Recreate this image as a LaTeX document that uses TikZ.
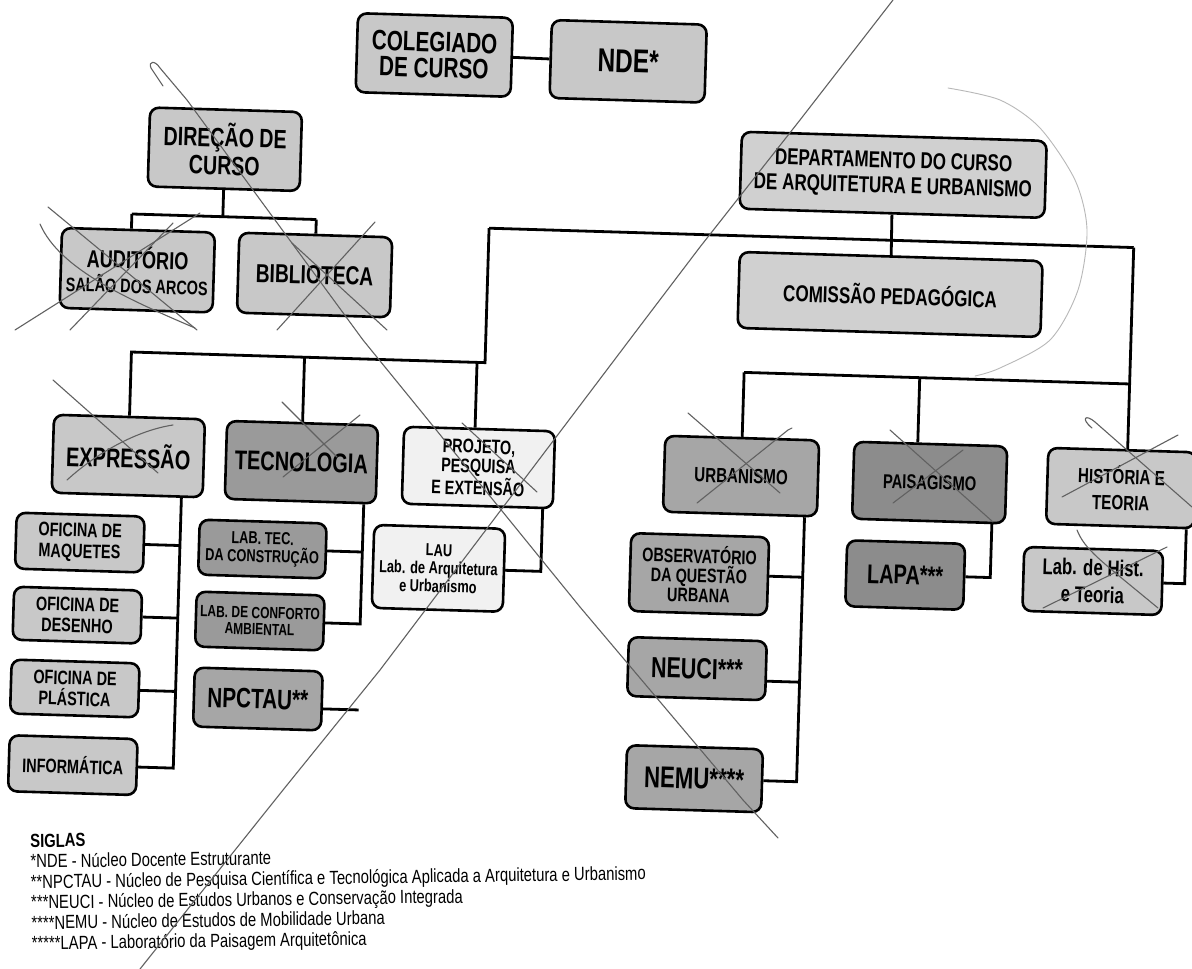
\documentclass[tikz,border=0pt]{standalone}
\usepackage{fontspec}
\setmainfont{Liberation Sans}[FakeStretch=0.74]
\newfontfamily\legendfont{Liberation Sans}[FakeStretch=0.78]
\definecolor{lg}{HTML}{C8C8C8}
\definecolor{lgb}{HTML}{D0D0D0}
\definecolor{mg}{HTML}{A6A6A6}
\definecolor{tg}{HTML}{9A9A9A}
\definecolor{pg}{HTML}{8C8C8C}
\definecolor{wg}{HTML}{F1F1F1}
\tikzset{
  box/.style={draw=black, line width=2.6pt, rounded corners=9pt, align=center, inner sep=1pt, text=black},
  conn/.style={draw=black, line width=2.8pt},
  fs/.style 2 args={font=\bfseries\fontsize{#1}{#2}\selectfont},
  pen/.style={draw=black!62, line width=1.1pt, line cap=round, line join=round},
  penlight/.style={draw=black!28, line width=0.9pt, line cap=round},
  legendblock/.style={anchor=north west, inner sep=0pt, rotate=0.8, align=left, font=\legendfont\fontsize{19}{20.5}\selectfont},
}
\begin{document}
\begin{tikzpicture}[x=1pt, y=-1pt]
\useasboundingbox (0,0) rectangle (1192,969);
\fill[white] (0,0) rectangle (1192,969);

\begin{scope}[rotate around={-1.72:(596,400)}, transform shape]
% top
\node[box, fill=lg, minimum width=155pt, minimum height=79pt, fs={28}{26}] (col) at (424,60) {COLEGIADO\\DE CURSO};
\node[box, fill=lg, minimum width=155pt, minimum height=78pt, fs={33}{33}] (nde) at (618,60.5) {NDE*};
\node[box, fill=lg, minimum width=152pt, minimum height=79pt, fs={26.5}{28}] (dir) at (217.5,160.5) {DIREÇÃO DE\\CURSO};
\node[box, fill=lg, minimum width=153pt, minimum height=80pt, font=\bfseries] (aud) at (133.6,284) {{\fontsize{24.5}{24.5}\selectfont AUDITÓRIO}\\[6pt]{\fontsize{19.5}{19.5}\selectfont SALÃO DOS ARCOS}};
\node[box, fill=lg, minimum width=153pt, minimum height=80pt, fs={26}{26}] (bib) at (311,283.5) {BIBLIOTECA};
\node[box, fill=lgb, minimum width=305pt, minimum height=77pt, fs={23}{25}] (dep) at (886.3,166) {DEPARTAMENTO DO CURSO\\DE ARQUITETURA E URBANISMO};
\node[box, fill=lgb, minimum width=303pt, minimum height=76pt, fs={23}{23}] (com) at (886.8,285.7) {COMISSÃO PEDAGÓGICA};
% second level
\node[box, fill=lg, minimum width=151pt, minimum height=78pt, fs={27}{27}] (exp) at (130.2,470) {EXPRESSÃO};
\node[box, fill=tg, minimum width=151pt, minimum height=78pt, fs={27}{27}] (tec) at (303.4,471) {TECNOLOGIA};
\node[box, fill=wg, minimum width=151pt, minimum height=77pt, fs={19.5}{19.5}] (pro) at (480.5,471) {PROJETO,\\PESQUISA\\E EXTENSÃO};
\node[box, fill=mg, minimum width=154pt, minimum height=76pt, fs={20.5}{20.5}] (urb) at (743.3,471.7) {URBANISMO};
\node[box, fill=pg, minimum width=153pt, minimum height=77pt, fs={20}{20}] (pai) at (932,472.5) {PAISAGISMO};
\node[box, fill=lg, minimum width=148pt, minimum height=76pt, fs={20.5}{26}] (his) at (1123.6,472.3) {HISTÓRIA E\\TEORIA};
% expressao column
\node[box, fill=lg, minimum width=128pt, minimum height=56pt, fs={19.5}{21}] (ofm) at (84.3,558) {OFICINA DE\\MAQUETES};
\node[box, fill=lg, minimum width=128pt, minimum height=53pt, fs={19.5}{21}] (ofd) at (84,630.6) {OFICINA DE\\DESENHO};
\node[box, fill=lg, minimum width=128pt, minimum height=54pt, fs={19.5}{21}] (ofp) at (83.7,704) {OFICINA DE\\PLÁSTICA};
\node[box, fill=lg, minimum width=128pt, minimum height=56pt, fs={19.5}{19.5}] (inf) at (84,780.7) {INFORMÁTICA};
% tecnologia column
\node[box, fill=tg, minimum width=127pt, minimum height=55pt, fs={17.3}{18}] (ltc) at (267,559) {LAB. TEC.\\DA CONSTRUÇÃO};
\node[box, fill=tg, minimum width=128pt, minimum height=55pt, fs={16.2}{16.5}] (lca) at (266.6,631) {LAB. DE CONFORTO\\AMBIENTAL};
\node[box, fill=mg, minimum width=128pt, minimum height=59pt, fs={28}{28}] (npc) at (267,709) {NPCTAU**};
% projeto
\node[box, fill=wg, minimum width=131pt, minimum height=83pt, fs={17.3}{18}] (lau) at (443.6,573) {LAU\\Lab. de Arquitetura\\e Urbanismo};
% urbanismo column
\node[box, fill=mg, minimum width=138pt, minimum height=78pt, fs={19.5}{19.5}] (obs) at (704.2,571) {OBSERVATÓRIO\\DA QUESTÃO\\URBANA};
\node[box, fill=mg, minimum width=138pt, minimum height=59pt, fs={29}{29}] (neu) at (705,665.5) {NEUCI***};
\node[box, fill=mg, minimum width=136pt, minimum height=63pt, fs={30}{30}] (nem) at (705.4,775.6) {NEMU****};
% paisagismo, historia
\node[box, fill=pg, minimum width=118pt, minimum height=66pt, fs={27}{27}] (lapa) at (910.3,565.7) {LAPA***};
\node[box, fill=lg, minimum width=139pt, minimum height=64pt, fs={22.7}{27}] (lh) at (1098,566) {Lab. de Hist.\\e Teoria};

% connectors
\draw[conn] (col.east) -- (nde.west);
\coordinate (audtop) at (126.5,228);
\coordinate (bibtop) at (311,228);
\draw[conn] (dir.south) -- (dir.south |- audtop);
\draw[conn] (audtop) -- (bibtop);
\draw[conn] (audtop) -- (audtop |- aud.north);
\draw[conn] (bibtop) -- (bibtop |- bib.north);

\coordinate (ml) at (484,231.5);
\coordinate (mr) at (1129,231.5);
\draw[conn] (ml) -- (mr);
\draw[conn] (dep.south) -- (com.north);
\coordinate (lbr) at (484,366);
\coordinate (lbl) at (130.2,366);
\draw[conn] (ml) -- (lbr) -- (lbl) -- (exp.north);
\draw[conn] (tec.north) -- (tec.north |- lbr);
\coordinate (prodrop) at (476,366);
\draw[conn] (prodrop) -- (prodrop |- pro.north);

\coordinate (rbl) at (743.3,368);
\draw[conn] (mr) -- (mr |- his.north);
\draw[conn] (rbl) -- (rbl -| mr);
\draw[conn] (rbl) -- (urb.north);
\coordinate (paidrop) at (919,368);
\draw[conn] (paidrop) -- (paidrop |- pai.north);

\coordinate (expt) at (184.5,0);
\draw[conn] (expt |- exp.south) -- (expt |- inf.east) -- (inf.east);
\draw[conn] (ofm.east) -- (ofm.east -| expt);
\draw[conn] (ofd.east) -- (ofd.east -| expt);
\draw[conn] (ofp.east) -- (ofp.east -| expt);

\coordinate (tect) at (367,0);
\draw[conn] (tect |- tec.south) -- (tect |- lca.east) -- (lca.east);
\draw[conn] (ltc.east) -- (ltc.east -| tect);
\coordinate (npcend) at (368,717);
\draw[conn] (npc.east |- npcend) -- (npcend);

\coordinate (prot) at (546,0);
\draw[conn] (prot |- pro.south) -- (prot |- lau.east) -- (lau.east);

\coordinate (urbt) at (808,0);
\draw[conn] (urbt |- urb.south) -- (urbt |- nem.east) -- (nem.east);
\draw[conn] (obs.east) -- (obs.east -| urbt);
\coordinate (neub) at (808,676);
\draw[conn] (neub) -- (neub -| neu.east);

\coordinate (pait) at (995.5,0);
\draw[conn] (pait |- pai.south) -- (pait |- lapa.east) -- (lapa.east);
\coordinate (hist) at (1190,0);
\draw[conn] (hist |- his.south) -- (hist |- lh.east) -- (lh.east);
\end{scope}

% legend
\node[legendblock] (leg) at (30,834) {\textbf{SIGLAS}\\
*NDE - Núcleo Docente Estruturante\\
**NPCTAU - Núcleo de Pesquisa Científica e Tecnológica Aplicada a Arquitetura e Urbanismo\\
***NEUCI - Núcleo de Estudos Urbanos e Conservação Integrada\\
****NEMU - Núcleo de Estudos de Mobilidade Urbana\\
*****LAPA - Laboratório da Paisagem Arquitetônica};

% hand-drawn pen marks
\draw[pen] (893,0) -- (800,120) -- (700,247) -- (637,330) -- (380,670) -- (283,790) -- (140,969);
\draw[pen] (163,86) -- (151,68) .. controls (148,61) and (155,60) .. (160,68) -- (187,100) -- (363,340) -- (420,410) -- (580,607) -- (743,800) -- (778,838);
\draw[penlight] plot[smooth] coordinates {(948,88) (1000,100) (1040,128) (1075,180) (1087,230) (1078,290) (1050,340) (1000,368) (975,376)};
% auditorio
\draw[pen] (48,207) -- (197,330);
\draw[pen] (40,224) .. controls (60,270) and (130,300) .. (195,328);
\draw[pen] (173,223) -- (70,330);
\draw[pen] (200,213) -- (15,330);
% biblioteca
\draw[pen] (375,222) -- (277,330);
\draw[pen] (292,243) -- (387,330);
% expressao
\draw[pen] (53,380) -- (158,473);
\draw[pen] (67,480) .. controls (100,450) and (140,430) .. (173,425);
% tecnologia
\draw[pen] (282,402) -- (337,457);
\draw[pen] (360,415) -- (283,477);
% projeto
\draw[pen] (462,423) -- (537,492);
% urbanismo
\draw[pen] (688,413) -- (780,493);
\draw[pen] (792,428) -- (788,430) -- (697,503);
% paisagismo
\draw[pen] (890,430) -- (993,522);
\draw[pen] (963,450) -- (893,503);
% historia
\draw[pen] (1092,428) .. controls (1080,418) and (1086,414) .. (1095,422) -- (1192,507);
\draw[pen] (1178,435) -- (1062,497);
% lab hist
\draw[pen] (1077,530) .. controls (1085,550) and (1100,560) .. (1158,608);
\draw[pen] (1167,547) -- (1043,608);
\end{tikzpicture}
\end{document}
